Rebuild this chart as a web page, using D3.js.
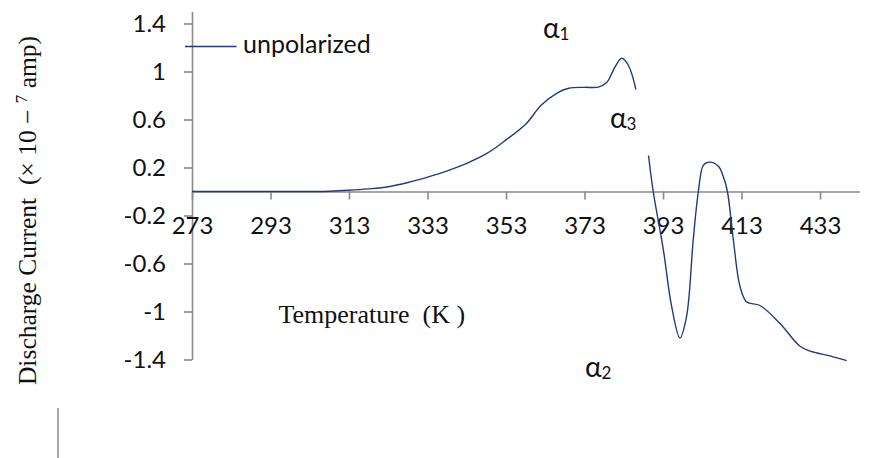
<!DOCTYPE html>
<html>
<head>
<meta charset="utf-8">
<script src="https://cdn.jsdelivr.net/npm/d3@7.9.0/dist/d3.min.js"></script>
<style>
  body { margin: 0; background: #fff; }
  svg text { white-space: pre; }
</style>
</head>
<body>
<svg id="chart" width="885" height="458"></svg>
<script>
// temperature (K) and discharge current (x 10^-7 amp), null = gap in the trace
const temperature = [273, 283, 293, 303, 308, 313, 318, 323, 328, 333, 338, 343, 348, 353, 358, 362, 366, 369, 373, 376.5, 378.7, 380.8, 382.5, 384.2, 386.1,
  388,
  389.3, 390.5, 393.1, 395.2, 397.3, 399.0, 400.7, 402.0, 403.3, 404.9, 407.1, 408.4, 409.4, 410.9, 412.6, 414.3, 417.7, 422.8, 427.9, 430.5, 435.5, 439.8];
const current = [0, 0, 0, 0, 0.002, 0.01, 0.022, 0.04, 0.075, 0.12, 0.172, 0.235, 0.315, 0.43, 0.56, 0.72, 0.82, 0.86, 0.868, 0.87, 0.91, 1.04, 1.11, 1.05, 0.85,
  null,
  0.30, 0, -0.49, -0.96, -1.22, -1.04, -0.40, 0, 0.22, 0.245, 0.21, 0.12, 0, -0.40, -0.79, -0.92, -0.95, -1.10, -1.29, -1.33, -1.37, -1.41];

const xTicks = [273, 293, 313, 333, 353, 373, 393, 413, 433];
const yTicks = [1.4, 1, 0.6, 0.2, -0.2, -0.6, -1, -1.4];
const peakLabels = [
  { name: 'α', sub: '1', x: 543, y: 38 },
  { name: 'α', sub: '3', x: 610, y: 128 },
  { name: 'α', sub: '2', x: 585, y: 377 }
];

const svg = d3.select('#chart');
const lineColor = '#1f3a7e';
const axisColor = '#8a8a8a';

const x = d3.scaleLinear().domain([273, 443]).range([192, 859.3]);
const y = d3.scaleLinear().domain([-1.4, 1.5]).range([359.5, 11.5]);

// y axis
const yAxis = svg.append('g')
  .attr('transform', `translate(${x(273)},0)`)
  .call(d3.axisLeft(y).tickValues(yTicks).tickSize(8).tickSizeOuter(0).tickFormat(d => d));
yAxis.select('.domain').attr('stroke', axisColor).attr('stroke-width', 1.6);
yAxis.selectAll('.tick line').attr('stroke', axisColor).attr('stroke-width', 1.6);
yAxis.selectAll('.tick text')
  .attr('x', -26)
  .attr('dy', '0.35em')
  .attr('fill', '#111')
  .style('font-family', 'Lato, sans-serif')
  .style('font-size', '24px');

// x axis along zero
const xAxis = svg.append('g')
  .attr('transform', `translate(0,${y(0)})`)
  .call(d3.axisBottom(x).tickValues(xTicks).tickSize(8).tickSizeOuter(0).tickFormat(d => d));
xAxis.select('.domain').attr('stroke', axisColor).attr('stroke-width', 1.6);
xAxis.selectAll('.tick line').attr('stroke', axisColor).attr('stroke-width', 1.6);
xAxis.selectAll('.tick text')
  .attr('y', 42.5)
  .attr('dy', 0)
  .attr('fill', '#111')
  .style('font-family', 'Lato, sans-serif')
  .style('font-size', '24px');

// the trace
const line = d3.line()
  .defined((d, i) => current[i] !== null)
  .x((d, i) => x(temperature[i]))
  .y((d, i) => y(current[i]))
  .curve(d3.curveCatmullRom.alpha(0.5));

svg.append('path')
  .attr('d', line(temperature))
  .attr('fill', 'none')
  .attr('stroke', lineColor)
  .attr('stroke-width', 1.4);

// legend
svg.append('line')
  .attr('x1', 185).attr('x2', 236.5)
  .attr('y1', 46.5).attr('y2', 46.5)
  .attr('stroke', lineColor).attr('stroke-width', 1.4);
svg.append('text')
  .attr('x', 243).attr('y', 52.5)
  .attr('fill', '#111')
  .style('font-family', 'Lato, sans-serif')
  .style('font-size', '25px')
  .text('unpolarized');

// peak labels
peakLabels.forEach(p => {
  const t = svg.append('text')
    .attr('x', p.x).attr('y', p.y)
    .attr('fill', '#111')
    .style('font-family', 'Lato, sans-serif')
    .style('font-size', '28px');
  t.append('tspan').text(p.name);
  t.append('tspan').attr('dy', 1.5).style('font-size', '17px').text(p.sub);
});

// axis titles
svg.append('text')
  .attr('x', 278.5).attr('y', 323)
  .attr('fill', '#111')
  .style('font-family', '"Liberation Serif", serif')
  .style('font-size', '26px')
  .text('Temperature  (K )');

const yTitle = svg.append('text')
  .attr('transform', 'translate(36,210.5) rotate(-90)')
  .attr('text-anchor', 'middle')
  .attr('fill', '#111')
  .style('font-family', '"Liberation Serif", serif')
  .style('font-size', '25.5px');
yTitle.append('tspan').text('Discharge Current  (× 10 − ');
yTitle.append('tspan').attr('dy', -9).style('font-size', '17px').text('7');
yTitle.append('tspan').attr('dy', 9).text(' amp)');

// stray frame edge at lower left
svg.append('line')
  .attr('x1', 58).attr('x2', 58)
  .attr('y1', 408).attr('y2', 458)
  .attr('stroke', axisColor).attr('stroke-width', 1.5);
</script>
</body>
</html>
